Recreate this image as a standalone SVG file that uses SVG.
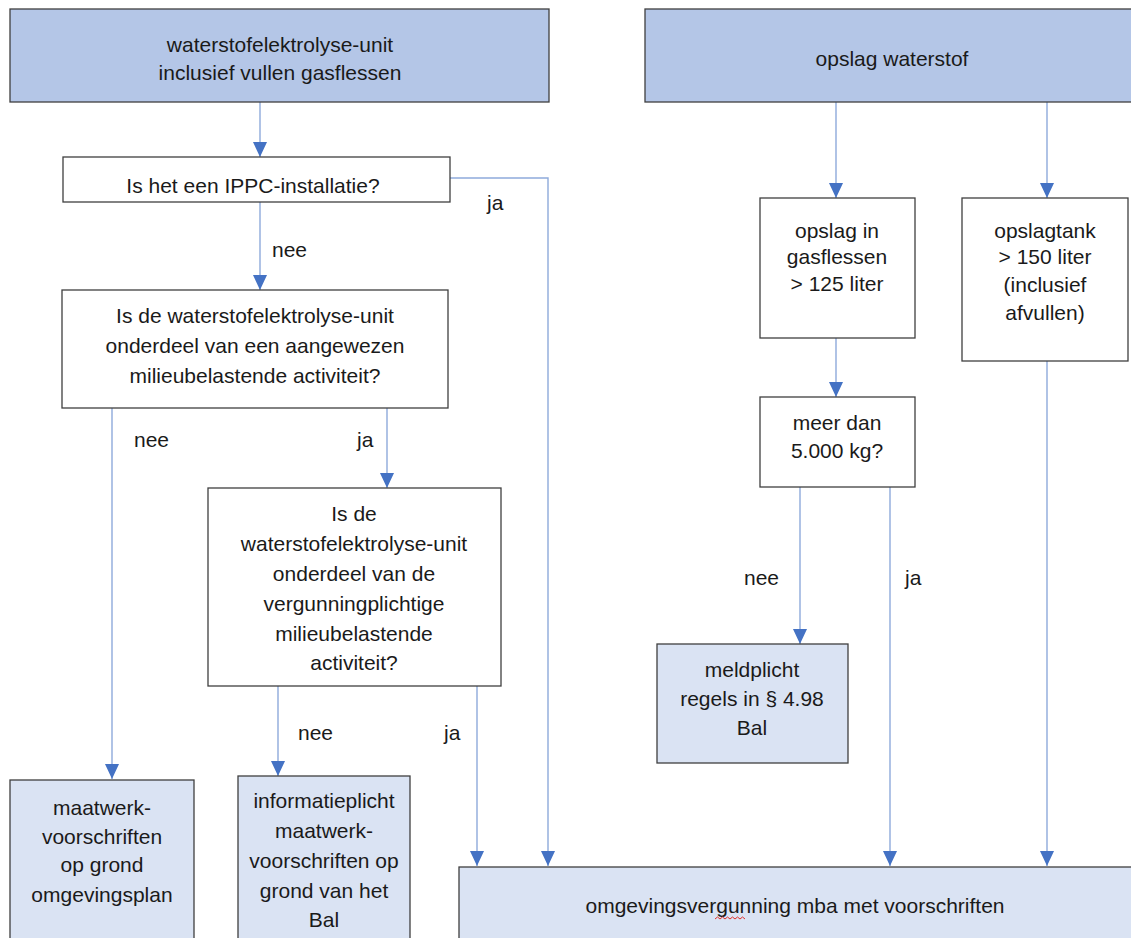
<svg xmlns="http://www.w3.org/2000/svg" width="1131" height="938" viewBox="0 0 1131 938">
<style>
.box{stroke:#3f3f3f;stroke-width:1.3}
.q{fill:#ffffff}
.h{fill:#b4c6e7}
.r{fill:#dae3f3}
text{font-family:"Liberation Sans",Arial,sans-serif;font-size:21px;fill:#1a1a1a;text-anchor:middle}
.lbl{text-anchor:start}
.c{stroke:#8eaadb;stroke-width:1.4;fill:none;marker-end:url(#ah)}
</style>
<defs>
<marker id="ah" markerUnits="userSpaceOnUse" markerWidth="16" markerHeight="14" refX="15" refY="7" orient="auto" viewBox="0 0 16 14">
<path d="M0,0 L15,7 L0,14 Z" fill="#4472c4"/>
</marker>
</defs>
<rect width="1131" height="938" fill="#ffffff"/>

<g id="connectors">
<path class="c" d="M260,102 V157"/>
<path class="c" d="M260,202 V290"/>
<path class="c" d="M450,178 H548 V866"/>
<path class="c" d="M112,408 V779"/>
<path class="c" d="M387,408 V488"/>
<path class="c" d="M278,686 V776"/>
<path class="c" d="M477,686 V866"/>
<path class="c" d="M836,102 V198"/>
<path class="c" d="M1047,102 V198"/>
<path class="c" d="M836,338 V397"/>
<path class="c" d="M800,487 V644"/>
<path class="c" d="M890,487 V866"/>
<path class="c" d="M1047,361 V866"/>
<text class="lbl" x="487" y="210">ja</text>
<text class="lbl" x="272" y="257">nee</text>
<text class="lbl" x="134" y="447">nee</text>
<text class="lbl" x="357" y="447">ja</text>
<text class="lbl" x="298" y="740">nee</text>
<text class="lbl" x="444" y="740">ja</text>
<text class="lbl" x="744" y="585">nee</text>
<text class="lbl" x="905" y="585">ja</text>
</g>

<g id="n-electrolyse">
<rect class="box h" x="10" y="9" width="539" height="93"/>
<text x="280" y="52">waterstofelektrolyse-unit</text>
<text x="280" y="80">inclusief vullen gasflessen</text>
</g>
<g id="n-opslag">
<rect class="box h" x="645" y="9" width="490" height="93"/>
<text x="892" y="66">opslag waterstof</text>
</g>
<g id="n-ippc">
<rect class="box q" x="63" y="157" width="387" height="45"/>
<text x="253" y="193">Is het een IPPC-installatie?</text>
</g>
<g id="n-aangewezen">
<rect class="box q" x="62" y="290" width="386" height="118"/>
<text x="255" y="323">Is de waterstofelektrolyse-unit</text>
<text x="255" y="353">onderdeel van een aangewezen</text>
<text x="255" y="383">milieubelastende activiteit?</text>
</g>
<g id="n-vergunningplichtig">
<rect class="box q" x="208" y="488" width="293" height="198"/>
<text x="354" y="521">Is de</text>
<text x="354" y="551">waterstofelektrolyse-unit</text>
<text x="354" y="581">onderdeel van de</text>
<text x="354" y="611">vergunningplichtige</text>
<text x="354" y="641">milieubelastende</text>
<text x="354" y="670">activiteit?</text>
</g>
<g id="n-maatwerk-plan">
<rect class="box r" x="10" y="780" width="184" height="165"/>
<text x="102" y="815">maatwerk-</text>
<text x="102" y="844">voorschriften</text>
<text x="102" y="872">op grond</text>
<text x="102" y="902">omgevingsplan</text>
</g>
<g id="n-informatieplicht">
<rect class="box r" x="238" y="776" width="172" height="170"/>
<text x="324" y="808">informatieplicht</text>
<text x="324" y="838">maatwerk-</text>
<text x="324" y="868">voorschriften op</text>
<text x="324" y="898">grond van het</text>
<text x="324" y="927">Bal</text>
</g>
<g id="n-omgevingsvergunning">
<rect class="box r" x="459" y="867" width="680" height="80"/>
<text x="795" y="913">omgevingsvergunning mba met voorschriften</text>
<path d="M715,919 l2.5,-2 l2.5,2 l2.5,-2 l2.5,2 l2.5,-2 l2.5,2 l2.5,-2 l2.5,2 l2.5,-2 l2.5,2 l2.5,-2 l2.5,2" fill="none" stroke="#e0302a" stroke-width="1"/>
</g>
<g id="n-gasflessen">
<rect class="box q" x="760" y="198" width="155" height="140"/>
<text x="837" y="238">opslag in</text>
<text x="837" y="264">gasflessen</text>
<text x="837" y="291">&gt; 125 liter</text>
</g>
<g id="n-opslagtank">
<rect class="box q" x="962" y="198" width="166" height="163"/>
<text x="1045" y="238">opslagtank</text>
<text x="1045" y="264">&gt; 150 liter</text>
<text x="1045" y="292">(inclusief</text>
<text x="1045" y="320">afvullen)</text>
</g>
<g id="n-meer-dan">
<rect class="box q" x="760" y="397" width="155" height="90"/>
<text x="837" y="430">meer dan</text>
<text x="837" y="458">5.000 kg?</text>
</g>
<g id="n-meldplicht">
<rect class="box r" x="657" y="644" width="191" height="119"/>
<text x="752" y="677">meldplicht</text>
<text x="752" y="706">regels in § 4.98</text>
<text x="752" y="735">Bal</text>
</g>
</svg>
